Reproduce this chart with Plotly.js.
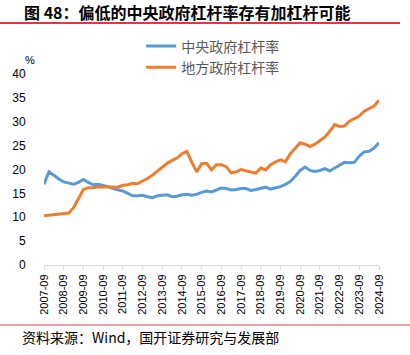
<!DOCTYPE html>
<html>
<head>
<meta charset="utf-8">
<script src="https://cdn.plot.ly/plotly-3.0.1.min.js"></script>
<style>
html,body{margin:0;padding:0;background:#fff;}
#chart{width:410px;height:355px;}
</style>
</head>
<body>
<div id="chart"></div>
<script>
// Quarterly dates 2007-09 .. 2024-09
const dates = [];
for (let y = 2007; y <= 2024; y++) {
  for (const m of ["03","06","09","12"]) {
    if (y === 2007 && (m === "03" || m === "06")) continue;
    if (y === 2024 && m === "12") continue;
    dates.push(y + "-" + m);
  }
}
const centralName = "中央政府杠杆率";
const localName = "地方政府杠杆率";
const central = [
  16.9, 19.5, 18.8, 18.0, 17.4, 17.1, 16.9, 17.3, 17.9, 17.3,
  16.8, 16.9, 16.7, 16.4, 16.0, 15.8, 15.5, 15.0, 14.5, 14.5,
  14.6, 14.3, 14.1, 14.5, 14.6, 14.7, 14.3, 14.4, 14.7, 14.8,
  14.6, 14.8, 15.2, 15.5, 15.3, 15.7, 16.1, 16.0, 15.7, 15.8,
  16.0, 16.0, 15.6, 15.8, 16.1, 16.3, 15.9, 16.1, 16.4, 16.9,
  17.5, 18.6, 19.8, 20.5, 19.8, 19.6, 19.8, 20.2, 19.7, 20.3,
  20.9, 21.5, 21.4, 21.5, 22.8, 23.7, 23.8, 24.5, 25.6
];
const local = [
  10.3, 10.4, 10.5, 10.6, 10.7, 10.9, 12.0, 14.0, 15.8, 16.2,
  16.2, 16.4, 16.4, 16.3, 16.3, 16.3, 16.7, 16.8, 17.1, 17.0,
  17.6, 18.1, 18.8, 19.7, 20.6, 21.3, 21.9, 22.4, 23.3, 23.8,
  21.5, 19.5, 21.2, 21.3, 19.9, 21.0, 21.0, 20.6, 19.3, 19.5,
  20.0, 19.7, 19.5, 19.2, 20.3, 19.9, 21.0, 21.6, 22.0, 21.6,
  23.3, 24.5, 25.6, 25.3, 24.8, 25.3, 26.0, 26.8, 28.0, 29.4,
  29.0, 29.1, 30.1, 30.6, 31.2, 32.2, 32.8, 33.3, 34.5
];
const yTicks = [0, 5, 10, 15, 20, 25, 30, 35, 40];
const xTickLabels = dates.filter(d => d.endsWith("-09"));

const titleText = "图 48：偏低的中央政府杠杆率存有加杠杆可能";
const sourceText = "资料来源：Wind，国开证券研究与发展部";

const traces = [
  {x: dates, y: central, name: centralName, type: "scatter", mode: "lines",
   line: {color: "#5B9BD5", width: 3}},
  {x: dates, y: local, name: localName, type: "scatter", mode: "lines",
   line: {color: "#ED7D31", width: 3}}
];

const cjk = '"Noto Sans CJK SC", "Liberation Sans", sans-serif';
const layout = {
  width: 410, height: 355,
  margin: {l: 44, r: 31, t: 74, b: 90, pad: 0},
  paper_bgcolor: "#fff", plot_bgcolor: "#fff",
  showlegend: true,
  legend: {x: 0.29, y: 1.228, xanchor: "left", yanchor: "top",
    font: {family: cjk, size: 14, color: "#595959"},
    bgcolor: "rgba(0,0,0,0)", tracegroupgap: 0, itemwidth: 30},
  xaxis: {type: "category", tickmode: "array", tickvals: xTickLabels, ticktext: xTickLabels,
    tickangle: -90, showgrid: false, showline: true, linecolor: "#d9d9d9", linewidth: 1,
    ticks: "outside", ticklen: 4, tickcolor: "#d9d9d9",
    tickfont: {family: '"Liberation Sans", Arial, sans-serif', size: 11, color: "#000"},
    range: [0, dates.length - 1], zeroline: false, fixedrange: true},
  yaxis: {range: [0, 40], tickmode: "array", tickvals: yTicks, showgrid: false, showline: false,
    zeroline: false, ticks: "outside", ticklen: 15, tickcolor: "rgba(0,0,0,0)",
    tickfont: {family: '"Liberation Sans", Arial, sans-serif', size: 12, color: "#000"}},
  shapes: [
    {type: "line", xref: "paper", yref: "paper", x0: -44/335, x1: 356/335,
     y0: 1 + (74-23)/191, y1: 1 + (74-23)/191, line: {color: "#E0383C", width: 2}},
    {type: "line", xref: "paper", yref: "paper", x0: -44/335, x1: 366/335,
     y0: -(325-265)/191, y1: -(325-265)/191, line: {color: "#E8A0A4", width: 2}}
  ],
  annotations: [
    {text: "<b>" + titleText + "</b>", xref: "paper", yref: "paper",
     x: -22/335, y: 1 + (74-12)/191, xanchor: "left", yanchor: "middle", showarrow: false,
     font: {family: cjk, size: 16, color: "#000"}},
    {text: "%", xref: "paper", yref: "paper", x: -14/335, y: 1 + (74-60)/191,
     xanchor: "center", yanchor: "middle", showarrow: false,
     font: {family: '"Liberation Sans", Arial, sans-serif', size: 11, color: "#000"}},
    {text: sourceText, xref: "paper", yref: "paper", x: -24/335, y: -(337-265)/191,
     xanchor: "left", yanchor: "middle", showarrow: false,
     font: {family: '"Noto Sans CJK SC", "Liberation Serif", serif', size: 14, color: "#000"}}
  ]
};
Plotly.newPlot("chart", traces, layout, {displayModeBar: false, staticPlot: true});
</script>
</body>
</html>
